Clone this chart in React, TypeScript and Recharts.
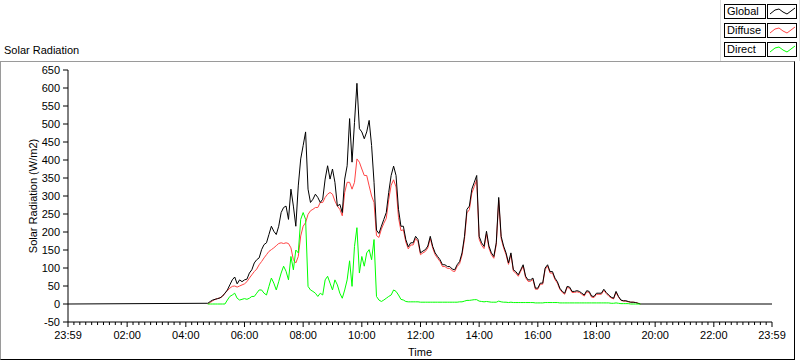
import { LineChart, Line, XAxis, YAxis, Label } from "recharts";

const FONT = '"Liberation Sans", Arial, sans-serif';

// W/m2, one reading every 5 min from 04:45 to 19:30
const globalRad = [
  2, 7, 11,
  13, 15, 17, 22, 30, 39, 53, 67, 75, 56, 67, 62,
  67, 69, 86, 95, 114, 123, 128, 151, 165, 170, 193, 216,
  202, 193, 216, 254, 268, 272, 235, 319, 272, 216, 328, 403,
  440, 478, 319, 282, 291, 305, 296, 282, 291, 347, 384, 347,
  375, 338, 272, 277, 254, 347, 384, 515, 394, 504, 613, 487,
  478, 459, 478, 510, 440, 338, 205, 196, 216, 235, 254, 310,
  357, 383, 357, 263, 216, 216, 179, 159, 170, 170, 188, 179,
  142, 147, 151, 161, 188, 160, 142, 132, 123, 109, 109, 104,
  104, 97, 95, 109, 118, 142, 188, 263, 272, 319, 338, 357,
  188, 170, 160, 202, 161, 142, 132, 170, 296, 188, 161, 142,
  114, 142, 95, 90, 81, 95, 109, 77, 67, 67, 72, 44,
  44, 58, 58, 100, 109, 90, 90, 72, 62, 44, 35, 30,
  49, 47, 35, 35, 37, 35, 30, 25, 37, 35, 22, 21,
  30, 30, 30, 41, 32, 25, 19, 16, 35, 21, 11, 9,
  9, 7, 5, 5, 4, 2, 0,
];

const diffuseRad = [
  0, 4, 9,
  13, 15, 17, 21, 30, 37, 44, 49, 50, 47, 50, 53,
  56, 62, 72, 81, 90, 97, 109, 118, 128, 137, 146, 151,
  156, 162, 168, 170, 168, 170, 168, 156, 123, 114, 132, 189,
  216, 226, 249, 259, 263, 268, 268, 282, 282, 296, 305, 310,
  305, 286, 272, 263, 245, 310, 338, 338, 319, 338, 403, 394,
  375, 357, 357, 328, 300, 282, 190, 185, 208, 224, 238, 290,
  330, 345, 325, 240, 204, 206, 172, 153, 164, 164, 182, 173,
  137, 142, 146, 156, 182, 155, 137, 127, 118, 104, 104, 99,
  99, 92, 90, 104, 112, 136, 180, 253, 262, 308, 326, 345,
  180, 163, 154, 195, 155, 137, 127, 165, 288, 182, 156, 137,
  110, 137, 91, 86, 77, 91, 105, 73, 63, 63, 68, 41,
  41, 55, 55, 96, 105, 86, 86, 68, 58, 41, 32, 27,
  46, 44, 32, 32, 34, 32, 27, 22, 34, 32, 19, 18,
  27, 27, 27, 38, 29, 22, 17, 14, 32, 19, 10, 8,
  8, 6, 5, 5, 4, 2, 0,
];

const directRad = [
  0, 0, 0,
  0, 0, 0, 0, 0, 11, 21, 25, 30, 16, 11, 13,
  15, 13, 16, 21, 21, 30, 39, 39, 30, 25, 49, 72,
  58, 39, 62, 86, 105, 91, 67, 132, 95, 150, 142, 235,
  254, 235, 49, 39, 35, 30, 21, 30, 25, 67, 77, 58,
  39, 67, 53, 30, 16, 39, 67, 120, 49, 160, 212, 86,
  132, 105, 142, 151, 123, 179, 21, 11, 7, 11, 16, 21,
  25, 39, 35, 25, 13, 11, 7, 6, 6, 6, 6, 6,
  5, 5, 5, 5, 5, 5, 5, 5, 5, 5, 5, 5,
  5, 5, 5, 5, 6, 6, 8, 10, 10, 11, 12, 12,
  8, 7, 6, 7, 6, 5, 5, 5, 8, 6, 5, 5,
  4, 5, 4, 4, 4, 4, 4, 4, 4, 4, 4, 3,
  3, 3, 3, 4, 4, 4, 4, 4, 4, 3, 3, 3,
  3, 3, 3, 3, 3, 3, 3, 3, 3, 3, 3, 3,
  3, 3, 3, 3, 3, 3, 2, 2, 3, 2, 1, 1,
  1, 1, 0, 0, 0, 0, 0,
];

const dayStart = -1; // 23:59 the evening before
const dayEnd = 1439;
const firstSample = 285; // 04:45
const sampleStep = 5;

const majorTicks = [-1, 120, 240, 360, 480, 600, 720, 840, 960, 1080, 1200, 1320, 1439];
const yTicks = [-50, 0, 50, 100, 150, 200, 250, 300, 350, 400, 450, 500, 550, 600, 650];

const series = [
  { key: "g", name: "Global", color: "#000000" },
  { key: "d", name: "Diffuse", color: "#ff4444" },
  { key: "r", name: "Direct", color: "#00ff00" },
];

type Row = { t: number; g?: number; d?: number; r?: number };

const rows: Row[] = [
  { t: dayStart, g: 0 },
  ...globalRad.map((g, i) => ({
    t: firstSample + i * sampleStep,
    g,
    d: diffuseRad[i],
    r: directRad[i],
  })),
  { t: dayEnd, g: 0 },
];

// 10 small divisions between each labelled tick
const allTicks: number[] = [];
majorTicks.forEach((m, i) => {
  allTicks.push(m);
  const next = majorTicks[i + 1];
  if (next === undefined) return;
  for (let k = 1; k < 10; k++) allTicks.push(m + ((next - m) * k) / 10);
});

const fmtTime = (t: number) => {
  if (t < 0 || t >= 1439) return "23:59";
  const h = Math.floor(t / 60);
  const m = Math.round(t % 60);
  return `${String(h).padStart(2, "0")}:${String(m).padStart(2, "0")}`;
};

function TimeTick(props: any) {
  const { x, y, payload } = props;
  const major = majorTicks.includes(payload.value);
  return (
    <g>
      <line x1={x} x2={x} y1={y} y2={y + (major ? 5 : 3)} stroke="#000" />
      {major && (
        <text x={x} y={y + 17} textAnchor="middle" fontSize={11} fontFamily={FONT} fill="#000">
          {fmtTime(payload.value)}
        </text>
      )}
    </g>
  );
}

function YTitle(props: any) {
  const vb = props.viewBox;
  const cx = vb.x + 33;
  const cy = vb.y + vb.height / 2;
  return (
    <text
      x={cx}
      y={cy}
      transform={`rotate(-90 ${cx} ${cy})`}
      textAnchor="middle"
      dominantBaseline="central"
      fontSize={11}
      fontFamily={FONT}
      fill="#000"
    >
      Solar Radiation (W/m2)
    </text>
  );
}

function XTitle(props: any) {
  const vb = props.viewBox;
  return (
    <text x={vb.x + vb.width / 2} y={vb.y + 34} textAnchor="middle" fontSize={11} fontFamily={FONT} fill="#000">
      Time
    </text>
  );
}

function LegendBox() {
  return (
    <div
      style={{
        position: "absolute",
        left: 720,
        top: 0,
        width: 78,
        height: 61,
        borderLeft: "1px solid #dcdcdc",
        borderRight: "1px solid #dcdcdc",
      }}
    >
      {series.map((s, i) => (
        <div key={s.key}>
          <div
            style={{
              position: "absolute",
              left: 3,
              top: 4 + i * 19,
              width: 38,
              height: 13,
              border: "1px solid #000",
              fontSize: 11,
              lineHeight: "13px",
              paddingLeft: 2,
              boxSizing: "content-box",
            }}
          >
            {s.name}
          </div>
          <svg
            width={30}
            height={15}
            style={{ position: "absolute", left: 46, top: 4 + i * 19, border: "none" }}
          >
            <rect x={0.5} y={0.5} width={29} height={14} fill="#fff" stroke="#000" />
            <polyline
              points="3,10 8,6 12,5 16,8 20,10 24,7 28,4"
              fill="none"
              stroke={s.color}
              strokeWidth={1}
            />
          </svg>
        </div>
      ))}
    </div>
  );
}

export default function App() {
  return (
    <div
      style={{
        position: "absolute",
        left: 0,
        top: 0,
        width: 800,
        height: 361,
        background: "#fff",
        fontFamily: FONT,
        color: "#000",
      }}
    >
      <div
        style={{
          position: "absolute",
          left: 0,
          top: 61,
          width: 793,
          height: 297,
          borderLeft: "1px solid #9a9a9a",
          borderTop: "1px solid #9a9a9a",
          borderRight: "1px solid #000",
          borderBottom: "1px solid #000",
        }}
      />
      <div style={{ position: "absolute", left: 4, top: 44, fontSize: 11, lineHeight: "13px" }}>
        Solar Radiation
      </div>
      <LegendBox />
      <div style={{ position: "absolute", left: 0, top: 0 }}>
        <LineChart width={800} height={361} data={rows} margin={{ top: 70, right: 28, bottom: 0, left: 0 }}>
          <XAxis
            dataKey="t"
            type="number"
            domain={[dayStart, dayEnd]}
            ticks={allTicks}
            interval={0}
            tick={<TimeTick />}
            tickLine={false}
            tickSize={0}
            tickMargin={0}
            axisLine={{ stroke: "#000" }}
            height={39}
            allowDataOverflow
          >
            <Label content={<XTitle />} />
          </XAxis>
          <XAxis
            xAxisId="top"
            orientation="top"
            dataKey="t"
            type="number"
            domain={[dayStart, dayEnd]}
            height={0}
            tick={false}
            tickLine={false}
            axisLine={{ stroke: "#000" }}
          />
          <YAxis
            type="number"
            domain={[-50, 650]}
            ticks={yTicks}
            interval={0}
            width={68}
            tickSize={5}
            tickMargin={3}
            tick={{ fill: "#000", fontSize: 11, fontFamily: FONT }}
            tickLine={{ stroke: "#000" }}
            axisLine={{ stroke: "#000" }}
            allowDataOverflow
          >
            <Label content={<YTitle />} />
          </YAxis>
          <YAxis
            yAxisId="right"
            orientation="right"
            dataKey="g"
            type="number"
            domain={[-50, 650]}
            width={0}
            tick={false}
            tickLine={false}
            axisLine={{ stroke: "#9a9a9a" }}
          />
          <Line dataKey="d" stroke="#ff4444" strokeWidth={1} dot={false} isAnimationActive={false} type="linear" />
          <Line dataKey="g" stroke="#000000" strokeWidth={1} dot={false} isAnimationActive={false} type="linear" />
          <Line dataKey="r" stroke="#00ff00" strokeWidth={1} dot={false} isAnimationActive={false} type="linear" />
        </LineChart>
      </div>
    </div>
  );
}
